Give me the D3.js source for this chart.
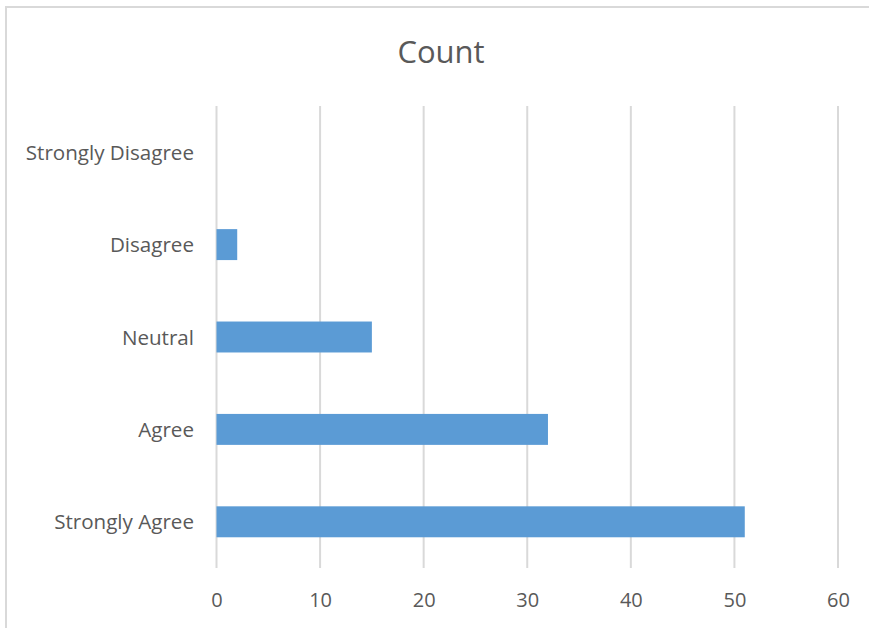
<!DOCTYPE html>
<html>
<head>
<meta charset="utf-8">
<script src="https://cdn.jsdelivr.net/npm/d3@7"></script>
<style>
  html, body { margin: 0; padding: 0; background: #fff; }
  svg { display: block; }
  text { font-family: "Open Sans", "Noto Sans", sans-serif; fill: #595959; }
</style>
</head>
<body>
<svg id="chart" width="869" height="628"></svg>
<script>
// Survey responses, listed top to bottom
const categories = ["Strongly Disagree", "Disagree", "Neutral", "Agree", "Strongly Agree"];
const counts = [0, 2, 15, 32, 51];
const xTicks = [0, 10, 20, 30, 40, 50, 60];
const title = "Count";

const svg = d3.select("#chart");
const W = 869, H = 628;
const plot = { left: 216.5, right: 838, top: 106, bottom: 568 };

svg.append("rect").attr("width", W).attr("height", H).attr("fill", "#fff");

// Chart area frame (right and bottom edges fall outside the view)
svg.append("rect")
  .attr("x", 6).attr("y", 7).attr("width", 900).attr("height", 700)
  .attr("fill", "none").attr("stroke", "#d9d9d9").attr("stroke-width", 2);

const x = d3.scaleLinear().domain([0, 60]).range([plot.left, plot.right]);
const y = d3.scaleBand().domain(categories).range([plot.top, plot.bottom])
  .paddingInner(0.665).paddingOuter(0.3325);

// Vertical gridlines
svg.append("g").selectAll("line").data(xTicks).join("line")
  .attr("x1", d => x(d)).attr("x2", d => x(d))
  .attr("y1", plot.top).attr("y2", plot.bottom)
  .attr("stroke", "#d9d9d9").attr("stroke-width", 2);

// Bars
svg.append("g").selectAll("rect").data(categories).join("rect")
  .attr("x", x(0))
  .attr("y", d => y(d))
  .attr("width", (d, i) => x(counts[i]) - x(0))
  .attr("height", y.bandwidth())
  .attr("fill", "#5b9bd5");

// Bottom axis labels
const xAxis = d3.axisBottom(x).tickValues(xTicks).tickSize(0).tickPadding(0);
const gx = svg.append("g").attr("transform", `translate(0,${plot.bottom + 25})`).call(xAxis);
gx.select(".domain").remove();
gx.selectAll("text").attr("font-size", 20).attr("fill", "#595959")
  .attr("font-family", "'Open Sans', sans-serif");

// Category labels
const yAxis = d3.axisLeft(y).tickSize(0).tickPadding(0);
const gy = svg.append("g").attr("transform", `translate(194,1)`).call(yAxis);
gy.select(".domain").remove();
gy.selectAll("text").attr("font-size", 20.6).attr("fill", "#595959")
  .attr("font-family", "'Open Sans', sans-serif");

// Title
svg.append("text")
  .attr("x", 441).attr("y", 63)
  .attr("text-anchor", "middle")
  .attr("font-size", 31)
  .text(title);
</script>
</body>
</html>
